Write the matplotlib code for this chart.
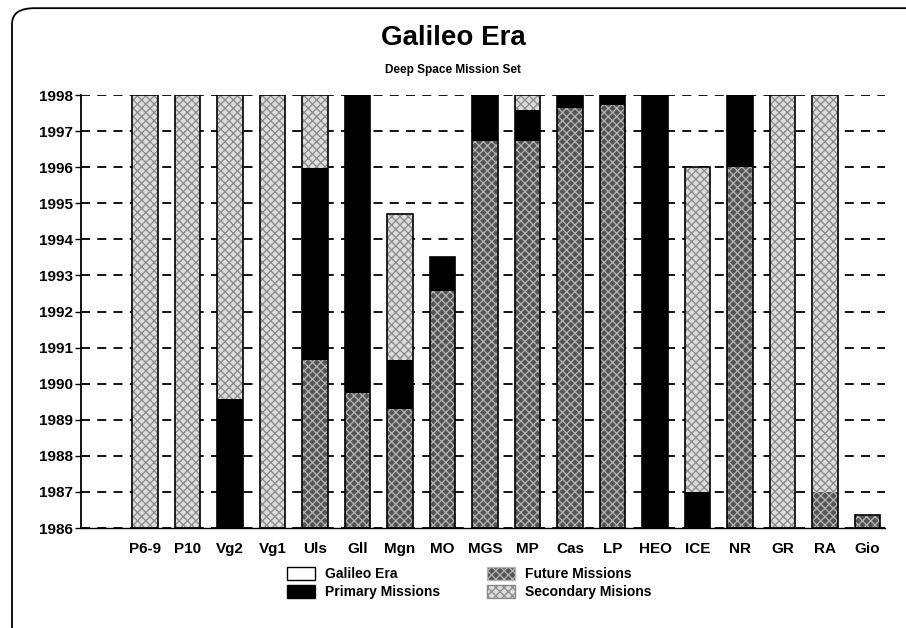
import numpy as np
import matplotlib.pyplot as plt
from matplotlib.patches import Patch, FancyBboxPatch

plt.rcParams['font.family'] = ['Liberation Sans Narrow', 'Liberation Sans', 'DejaVu Sans']
plt.rcParams['hatch.linewidth'] = 0.9

# Datos (años de inicio y fin de cada segmento)
misiones = ["P6-9", "P10", "Vg2", "Vg1", "Uls", "Gll", "Mgn", "MO", "MGS",
            "MP", "Cas", "LP", "HEO", "ICE", "NR", "GR", "RA", "Gio"]
base = 1986
fin_futuras = [1986, 1986, 1986, 1986, 1990.66, 1989.74, 1989.3, 1992.58, 1996.72,
               1996.72, 1997.65, 1997.72, 1986, 1986, 1996.0, 1986, 1987.0, 1986.35]
fin_primarias = [1986, 1986, 1989.58, 1986, 1995.97, 1998, 1990.66, 1993.52, 1998,
                 1997.58, 1998, 1998, 1998, 1987.0, 1998, 1986, 1987.0, 1986.35]
fin_secundarias = [1998, 1998, 1998, 1998, 1998, 1998, 1994.7, 1993.52, 1998,
                   1998, 1998, 1998, 1998, 1996.0, 1998, 1998, 1998, 1986.35]

x = np.arange(len(misiones))
ancho = 0.6

fig = plt.figure(figsize=(9.06, 6.28), dpi=100)
ax = fig.add_axes([81 / 906, 100 / 628, 804 / 906, 433 / 628])

# marco redondeado
marco = FancyBboxPatch((12 / 906, -0.05), 1.2, 1.037, transform=fig.transFigure,
                       boxstyle="round,pad=0,rounding_size=0.025", fill=False,
                       edgecolor="black", linewidth=1.3, zorder=0)
fig.patches.append(marco)

estilos = {
    "futuras": dict(color="#555555", hatch="xxxx", hc="#b5b5b5"),
    "primarias": dict(color="black", hatch=None, hc="black"),
    "secundarias": dict(color="#dcdcdc", hatch="xxxx", hc="#8a8a8a"),
}

def barras(inicio, fin, est):
    inicio = np.array(inicio)
    alto = np.array(fin) - inicio
    ax.bar(x, alto, ancho, bottom=inicio, color=est["color"], hatch=est["hatch"],
           edgecolor=est["hc"], linewidth=0, zorder=2)

barras([base] * len(x), fin_futuras, estilos["futuras"])
barras(fin_futuras, fin_primarias, estilos["primarias"])
barras(fin_primarias, fin_secundarias, estilos["secundarias"])
# contorno de cada barra
total = np.array(fin_secundarias) - base
ax.bar(x, total, ancho, bottom=base, fill=False, edgecolor="black", linewidth=1.2, zorder=3)

ax.set_xlim(-1.506, 17.41)
ax.set_ylim(1986, 1998)
ax.set_yticks(np.arange(1986, 1999))
ax.set_yticklabels([str(a) for a in range(1986, 1999)], fontsize=11, fontweight="bold")
ax.set_xticks(x)
ax.set_xticklabels(misiones, fontsize=11, fontweight="bold")
ax.tick_params(axis="x", length=0, pad=10)
ax.tick_params(axis="y", length=4, width=1, pad=2, direction="out")
ax.grid(axis="y", color="black", linestyle=(0, (5, 4)), linewidth=1.3, zorder=1)
ax.set_axisbelow(True)
for lado in ["top", "right"]:
    ax.spines[lado].set_visible(False)
ax.spines["left"].set_linewidth(1.3)
ax.spines["bottom"].set_linewidth(1.0)

fig.text(0.5, 1 - 38 / 628, "Galileo Era", ha="center", va="center",
         fontsize=20, fontweight="bold")
fig.text(0.5, 1 - 70 / 628, "Deep Space Mission Set", ha="center", va="center",
         fontsize=8.5, fontweight="bold")

manejadores = [
    Patch(facecolor="white", edgecolor="black", label="Galileo Era"),
    Patch(facecolor="black", edgecolor="black", label="Primary Missions"),
    Patch(facecolor=estilos["futuras"]["color"], hatch="xxxx", edgecolor="#b5b5b5", label="Future Missions"),
    Patch(facecolor=estilos["secundarias"]["color"], hatch="xxxx", edgecolor="#8a8a8a", label="Secondary Misions"),
]
fig.legend(handles=manejadores, ncol=2, loc="center", bbox_to_anchor=(0.518, 1 - 583 / 628),
           frameon=False, prop={"weight": "bold", "size": 10},
           handlelength=2.0, handleheight=1.1, handletextpad=0.7, columnspacing=3.4,
           labelspacing=0.3)

fig.savefig("out.png", dpi=100)
